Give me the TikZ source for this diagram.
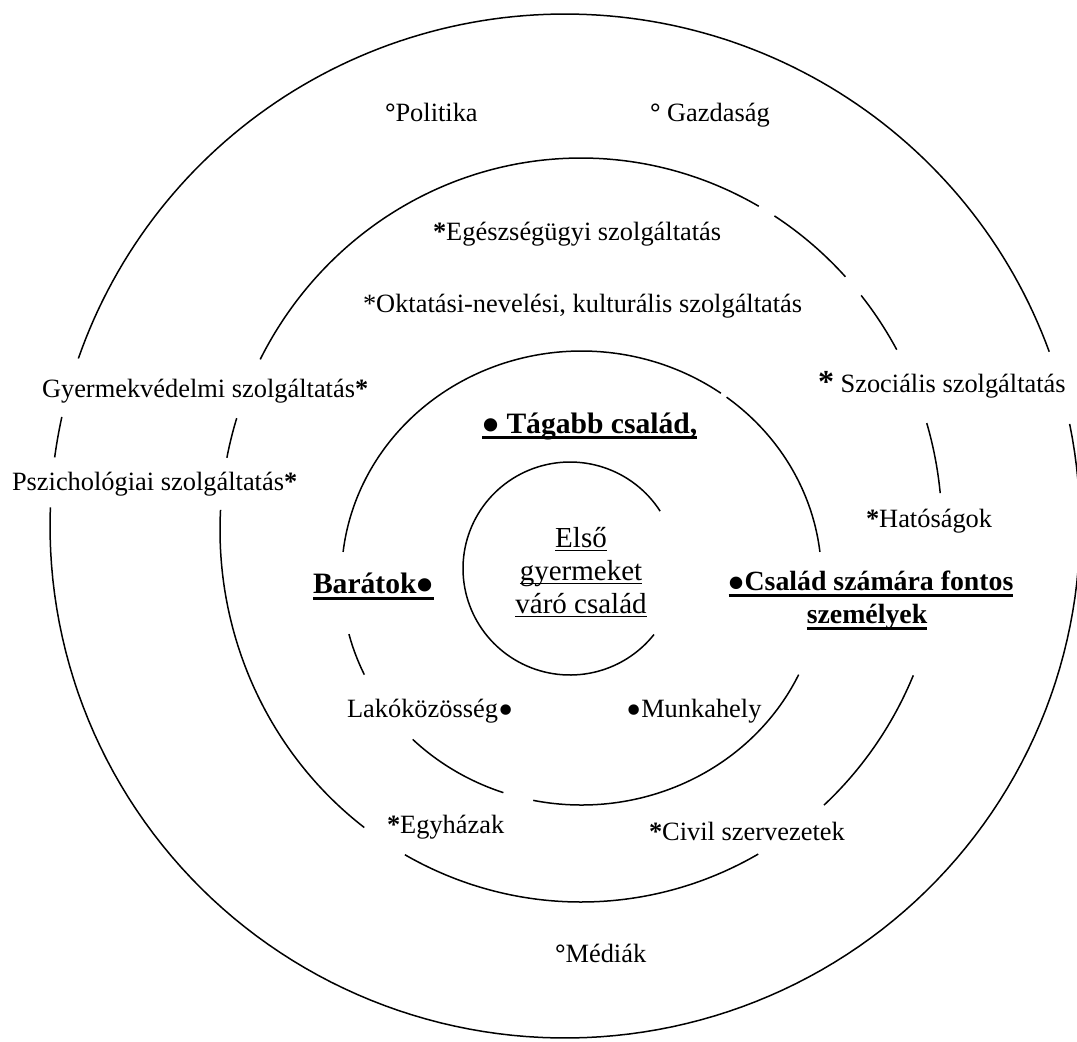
\documentclass[tikz,border=0pt]{standalone}
\usepackage{fontspec}
\setmainfont{Liberation Serif}
\newcommand\myul[3]{\leavevmode\setbox0=\hbox{#3}\rlap{\rule[-#1]{\wd0}{#2}}\box0}
\newcommand\bast{\textbf{*}}
\newcommand\degr{{\bfseries °}}
\newcommand\bul{\raisebox{-0.3em}{\scalebox{1.65}{•}}}
\newcommand\earc[6]{\draw[ring] plot[domain=#5:#6,samples=120,variable=\t] ({#1+#3*cos(\t)},{#2+#4*sin(\t)});}
\tikzset{
  ring/.style={line width=0.75pt, black},
  lbl/.style={inner sep=0pt, outer sep=0pt, anchor=base west, font=\fontsize{13.2}{15}\selectfont},
  blbl/.style={lbl, font=\fontsize{14.8}{17}\selectfont\bfseries},
  clbl/.style={inner sep=0pt, outer sep=0pt, anchor=base, font=\fontsize{14.5}{16.5}\selectfont},
  flbl/.style={inner sep=0pt, outer sep=0pt, anchor=base, font=\fontsize{13.9}{16}\selectfont\bfseries},
}
\begin{document}
\begin{tikzpicture}[x=0.5pt,y=-0.5pt]
\useasboundingbox (0,0) rectangle (1077,1041);
% outer ring
\earc{565}{526}{515}{512}{-160.9}{-19.9}
\earc{565}{526}{515}{512}{-172.3}{-167.7}
\earc{565}{526}{515}{512}{-11.5}{182.1}
% second ring
\earc{581}{530}{361}{372}{207.3}{299.5}
\earc{581}{530}{361}{372}{-57.6}{-42.9}
\earc{581}{530}{361}{372}{-39.1}{-29.0}
\earc{581}{530}{361}{372}{-16.7}{-5.7}
\earc{581}{530}{361}{372}{23.0}{47.7}
\earc{581}{530}{361}{372}{60.6}{119.2}
\earc{581}{530}{361}{372}{126.9}{183.1}
\earc{581}{530}{361}{372}{191.2}{197.5}
% third ring
\earc{581.5}{578}{240}{227}{186.6}{305.5}
\earc{581.5}{578}{240}{227}{-52.8}{-6.6}
\earc{581.5}{578}{240}{227}{25.2}{101.6}
\earc{581.5}{578}{240}{227}{109.0}{134.7}
\earc{581.5}{578}{240}{227}{154.8}{165.7}
% inner ring
\earc{570}{568.5}{107}{106.5}{38.3}{327.4}

% labels
\node[lbl] (politika) at (385,121) {\degr Politika};
\node[lbl] (gazdasag) at (650,121) {\degr{} Gazdaság};
\node[lbl] (egeszseg) at (433,240) {\bast{}Egészségügyi szolgáltatás};
\node[lbl] (oktatas) at (363,312) {*Oktatási-nevelési, kulturális szolgáltatás};
\node[lbl] (gyermek) at (42,397) {Gyermekvédelmi szolgáltatás\bast};
\node[lbl] (szocialis) at (818,392) {{\fontsize{16}{16}\selectfont\bfseries *} Szociális szolgáltatás};
\node[lbl] (pszich) at (12,490) {Pszichológiai szolgáltatás\bast};
\node[lbl] (hatosag) at (866,527) {\bast{}Hatóságok};
\node[blbl] (tagabb) at (482,433) {\myul{3pt}{1.3pt}{\bul{} Tágabb család,}};
\node[blbl] (baratok) at (313,593) {\myul{3.5pt}{1.3pt}{Barátok\bul}};
\node[flbl] (csalad1) at (871,590) {\myul{3.5pt}{1.3pt}{\bul{}Család számára fontos}};
\node[flbl] (csalad2) at (867,623) {\myul{3.5pt}{1.3pt}{személyek}};
\node[clbl] (elso1) at (581,547) {\myul{2.2pt}{0.6pt}{Első}};
\node[clbl] (elso2) at (581,580) {\myul{2.2pt}{0.6pt}{gyermeket}};
\node[clbl] (elso3) at (581,613) {\myul{2.2pt}{0.6pt}{váró család}};
\node[lbl] (lako) at (347,717) {Lakóközösség\bul};
\node[lbl] (munka) at (626,717) {\bul{}Munkahely};
\node[lbl] (egyhaz) at (387,833) {\bast{}Egyházak};
\node[lbl] (civil) at (649,840) {\bast{}Civil szervezetek};
\node[lbl] (media) at (555,962) {\degr Médiák};
\end{tikzpicture}
\end{document}
